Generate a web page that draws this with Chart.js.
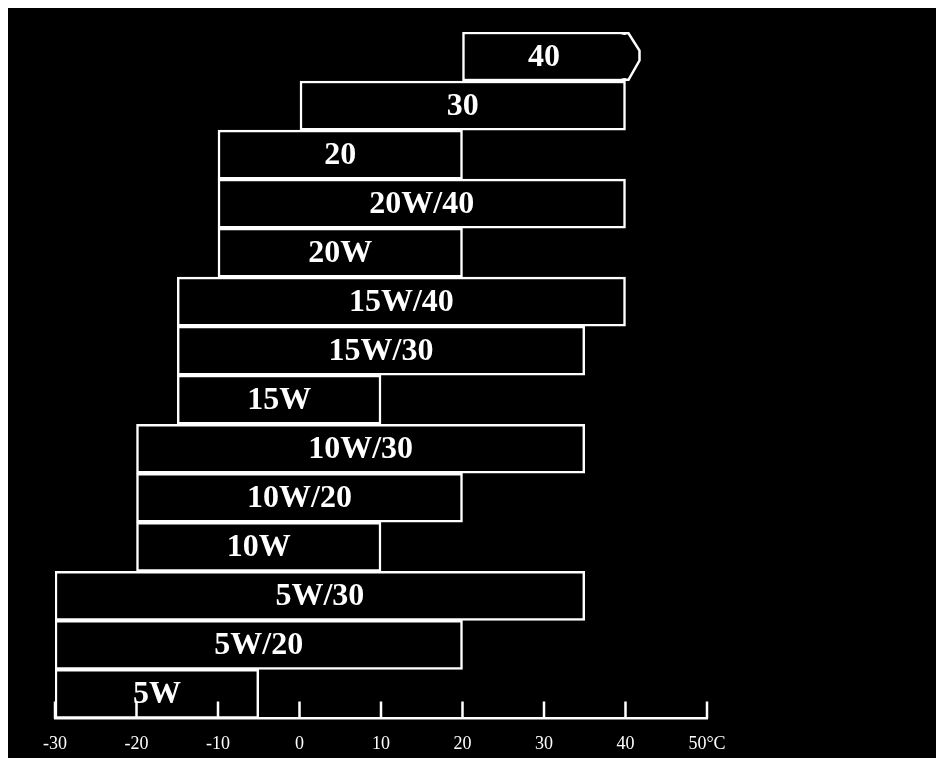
<!DOCTYPE html>
<html>
<head>
<meta charset="utf-8">
<script src="https://cdn.jsdelivr.net/npm/chart.js@4.4.0/dist/chart.umd.min.js"></script>
<style>
  body { margin: 0; background: #fff; }
  .box { position: absolute; left: 8px; top: 8px; width: 928px; height: 750px; background: #000; }
</style>
</head>
<body>
<div class="box"><canvas id="oilChart" width="928" height="750"></canvas></div>
<script>
// SAE grades, top to bottom
let grades = ['40', '30', '20', '20W/40', '20W', '15W/40', '15W/30', '15W', '10W/30', '10W/20', '10W', '5W/30', '5W/20', '5W'];
// temperature range of each grade, in °C
let lowTemp = [20, 0, -10, -10, -10, -15, -15, -15, -20, -20, -20, -30, -30, -30];
let highTemp = [40, 40, 20, 40, 20, 40, 35, 10, 35, 20, 10, 35, 20, -5];
let tickLabels = ['-30', '-20', '-10', '0', '10', '20', '30', '40', '50°C'];

let ranges = grades.map((g, i) => [lowTemp[i], highTemp[i]]);

// grade names inside the bars, plus the arrow on the open ended "40" bar
const barText = {
  id: 'barText',
  afterDatasetsDraw(chart) {
    const ctx = chart.ctx;
    const bars = chart.getDatasetMeta(0).data;
    ctx.save();
    // arrow tip on the first bar
    let b = bars[0];
    let top = b.y - b.height / 2, bot = b.y + b.height / 2;
    ctx.fillStyle = '#000';
    ctx.fillRect(b.x - 4, top + 3, 6, b.height - 6);
    ctx.strokeStyle = '#fff';
    ctx.lineWidth = 2.5;
    ctx.beginPath();
    ctx.moveTo(b.x - 4, top + 1.25);
    ctx.lineTo(b.x + 3, top + 1.25);
    ctx.lineTo(b.x + 14, b.y - 6);
    ctx.lineTo(b.x + 14, b.y + 4);
    ctx.lineTo(b.x + 3, bot - 1.25);
    ctx.lineTo(b.x - 4, bot - 1.25);
    ctx.stroke();

    ctx.fillStyle = '#fff';
    ctx.font = 'bold 32px "Liberation Serif", "DejaVu Serif", serif';
    ctx.textAlign = 'center';
    ctx.textBaseline = 'middle';
    bars.forEach((bar, i) => {
      ctx.fillText(grades[i], (bar.x + bar.base) / 2, bar.y + 1);
    });

    // short tick marks standing up from the axis
    const xs = chart.scales.x;
    const y0 = chart.chartArea.bottom;
    ctx.beginPath();
    xs.ticks.forEach(t => {
      let px = xs.getPixelForValue(t.value);
      ctx.moveTo(px, y0);
      ctx.lineTo(px, y0 - 17);
    });
    ctx.stroke();
    ctx.restore();
  }
};

new Chart(document.getElementById('oilChart'), {
  type: 'bar',
  data: {
    labels: grades,
    datasets: [{
      data: ranges,
      backgroundColor: '#000',
      borderColor: '#fff',
      borderWidth: 2.5,
      borderSkipped: false,
      barPercentage: 1,
      categoryPercentage: 1
    }]
  },
  options: {
    indexAxis: 'y',
    responsive: false,
    animation: false,
    layout: { padding: { left: 47, right: 229, top: 24, bottom: -12 } },
    plugins: { legend: { display: false }, tooltip: { enabled: false } },
    scales: {
      x: {
        min: -30,
        max: 50,
        grid: { drawOnChartArea: false, drawTicks: false },
        border: { display: true, color: '#fff', width: 2.5 },
        ticks: {
          stepSize: 10,
          color: '#fff',
          padding: 15,
          font: { family: '"Liberation Serif", serif', size: 18 },
          callback: (v, i) => tickLabels[i]
        }
      },
      y: { display: false }
    }
  },
  plugins: [barText]
});
</script>
</body>
</html>
